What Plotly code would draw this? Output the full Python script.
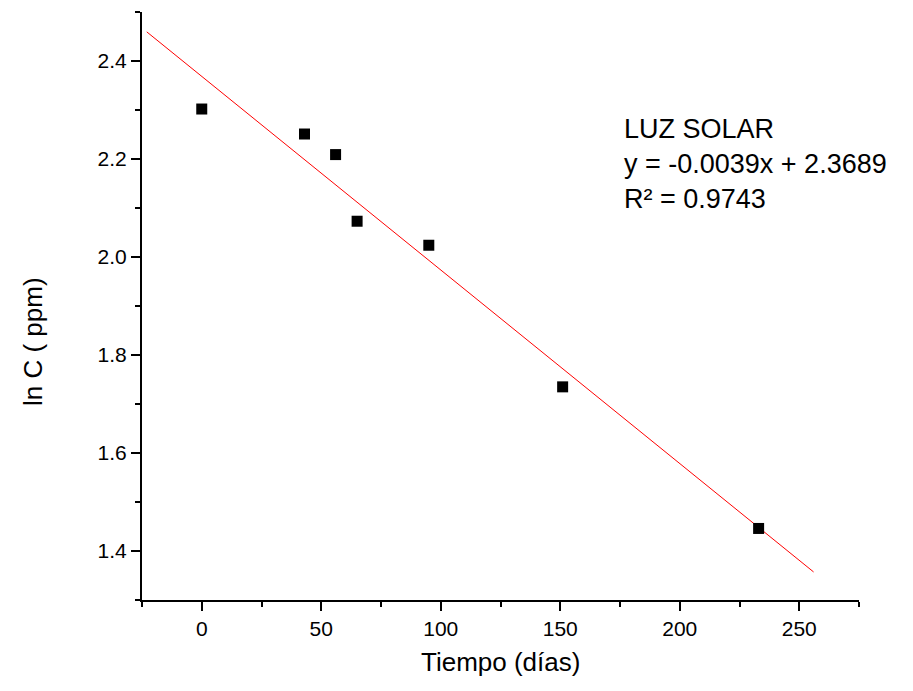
import numpy as np
import plotly.graph_objects as go

# Data
tiempo = [0, 43, 56, 65, 95, 151, 233]
ln_c = [2.302, 2.251, 2.209, 2.073, 2.024, 1.735, 1.446]
fit_x = [-23, 256]
label_lines = ["LUZ SOLAR", "y = -0.0039x + 2.3689", "R\u00b2 = 0.9743"]
x_title = "Tiempo (días)"
y_title = "ln C ( ppm)"

slope, intercept = np.polyfit(tiempo, ln_c, 1)
fit_y = [slope * v + intercept for v in fit_x]

FONT = "Liberation Sans, Arial, sans-serif"
L, R, T, B = 142, 54, 12, 91
W, H = 913, 691
PW, PH = W - L - R, H - T - B


def px(xp):
    return (xp - L) / PW


def py(yp):
    return (H - B - yp) / PH


fig = go.Figure()
fig.add_trace(go.Scatter(x=fit_x, y=fit_y, mode="lines",
                         line=dict(color="#ff0000", width=1), showlegend=False,
                         hoverinfo="skip"))
fig.add_trace(go.Scatter(x=tiempo, y=ln_c, mode="markers",
                         marker=dict(symbol="square", size=11, color="black",
                                     line=dict(width=0)),
                         showlegend=False))

axis_common = dict(showline=True, linecolor="black", linewidth=2, mirror=False,
                   ticks="outside", ticklen=9, tickwidth=2, tickcolor="black",
                   showgrid=False, zeroline=False,
                   tickfont=dict(family=FONT, size=21, color="black"))

fig.update_xaxes(range=[-25, 275], tick0=0, dtick=50,
                 minor=dict(ticks="outside", ticklen=5, tickwidth=2, tickcolor="black",
                            dtick=25, tick0=0),
                 **axis_common)
fig.update_yaxes(range=[1.3, 2.5], tick0=0, dtick=0.2, tickformat=".1f",
                 minor=dict(ticks="outside", ticklen=5, tickwidth=2, tickcolor="black",
                            dtick=0.1, tick0=0),
                 **axis_common)

# axis titles
fig.add_annotation(xref="paper", yref="paper", x=0.5, y=py(662),
                   xanchor="center", yanchor="middle", showarrow=False,
                   text=x_title, font=dict(family=FONT, size=26, color="black"))
fig.add_annotation(xref="paper", yref="paper", x=px(33), y=py(342),
                   xanchor="center", yanchor="middle", showarrow=False, textangle=-90,
                   text=y_title, font=dict(family=FONT, size=26, color="black"))

# regression label
fig.add_annotation(xref="paper", yref="paper", x=px(622), y=py(164),
                   xanchor="left", yanchor="middle", align="left", showarrow=False,
                   text="<br>".join(label_lines),
                   font=dict(family=FONT, size=27, color="black"))

fig.update_layout(width=W, height=H, paper_bgcolor="white", plot_bgcolor="white",
                  margin=dict(l=L, r=R, t=T, b=B),
                  font=dict(family=FONT, color="black"))

fig.write_html("out.html")
